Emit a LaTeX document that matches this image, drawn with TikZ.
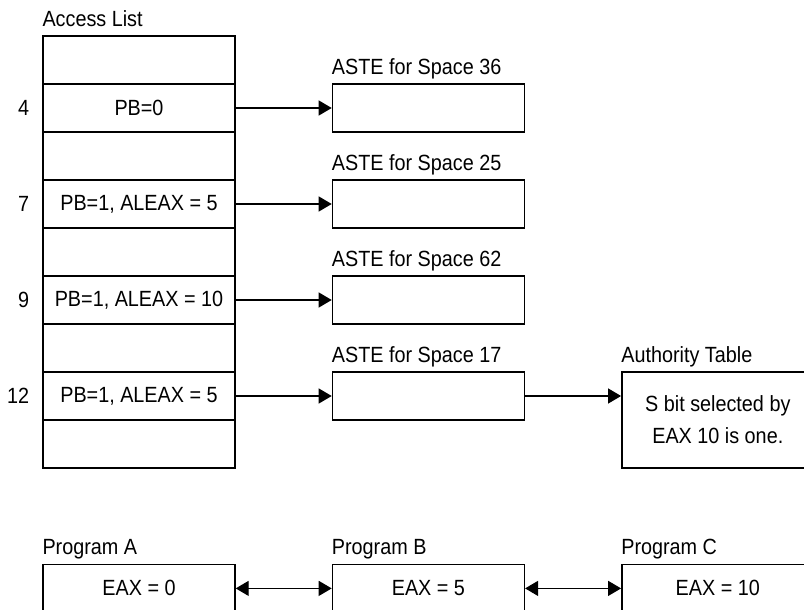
\documentclass[tikz,border=0pt]{standalone}
\usepackage{fontspec}
\setmainfont[FakeStretch=0.9]{Liberation Sans}
\usetikzlibrary{positioning,arrows.meta,calc}

\begin{document}
\begin{tikzpicture}[x=1pt, y=1pt, font=\fontsize{22}{32}\selectfont,
  box/.style={draw, line width=1.4pt, minimum width=192pt, minimum height=48pt, inner sep=0pt, align=center},
  lbl/.style={anchor=base west, inner sep=0pt},
  num/.style={inner sep=0pt},
  arr/.style={-{Triangle[length=13pt, width=15pt]}, line width=1.2pt},
  darr/.style={{Triangle[length=13pt, width=15pt]}-{Triangle[length=13pt, width=15pt]}, line width=1.2pt}]
\useasboundingbox (0,0) rectangle (804,-610);
\clip (0,0) rectangle (804,-610);
% access list rows
\foreach \i/\txt in {0/{}, 1/{PB=0}, 2/{}, 3/{PB=1, ALEAX = 5}, 4/{}, 5/{PB=1, ALEAX = 10}, 6/{}, 7/{PB=1, ALEAX = 5}, 8/{}}
  \node[box] (al\i) at (139,{-60-48*\i}) {\txt};
\node[lbl] at ($(al0.north west)+(0,9)$) {Access List};
\node[num, left=13pt of al1] {4};
\node[num, left=13pt of al3] {7};
\node[num, left=13pt of al5] {9};
\node[num, left=13pt of al7] {12};
% ASTEs
\node[box, right=96pt of al1] (aste36) {};
\node[box, right=96pt of al3] (aste25) {};
\node[box, right=96pt of al5] (aste62) {};
\node[box, right=96pt of al7] (aste17) {};
\foreach \n in {36, 25, 62, 17}
  \node[lbl] at ($(aste\n.north west)+(0,9)$) {ASTE for Space \n};
\foreach \a/\b in {al1/aste36, al3/aste25, al5/aste62, al7/aste17} \draw[arr] (\a) -- (\b);
\node[box, minimum height=96pt, right=96pt of aste17.north east, anchor=north west] (auth) {S bit selected by\\EAX 10 is one.};
\node[lbl] at ($(auth.north west)+(0,9)$) {Authority Table};
\draw[arr] (aste17.east) -- (aste17.east -| auth.west);
% programs
\node[box, below=95pt of al8] (proga) {EAX = 0};
\node[box, right=96pt of proga] (progb) {EAX = 5};
\node[box, right=96pt of progb] (progc) {EAX = 10};
\node[lbl] at ($(proga.north west)+(0,9)$) {Program A};
\node[lbl] at ($(progb.north west)+(0,9)$) {Program B};
\node[lbl] at ($(progc.north west)+(0,9)$) {Program C};
\foreach \a/\b in {proga/progb, progb/progc} \draw[darr] (\a) -- (\b);
\end{tikzpicture}
\end{document}
